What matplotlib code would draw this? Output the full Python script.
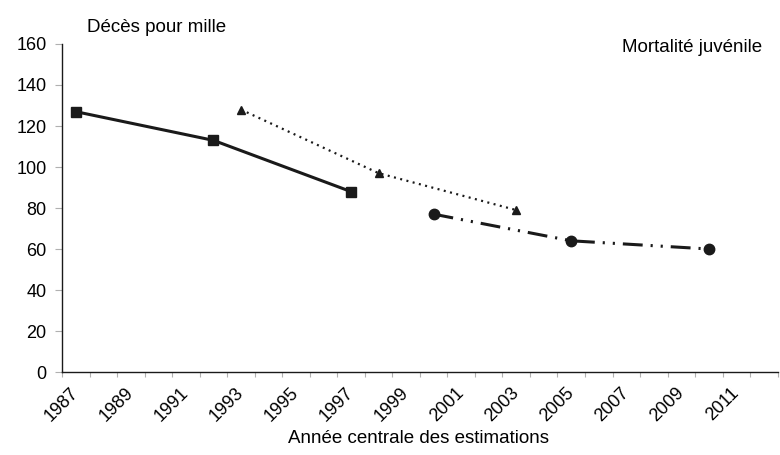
import matplotlib
matplotlib.use("Agg")
import matplotlib.pyplot as plt
import numpy as np

plt.rcParams['font.family'] = ['Liberation Sans', 'DejaVu Sans']

# three survey series: central year of estimate -> deaths per 1000
years_a = [1987, 1992, 1997]
vals_a = [127, 113, 88]
years_b = [1993, 1998, 2003]
vals_b = [128, 97, 79]
years_c = [2000, 2005, 2010]
vals_c = [77, 64, 60]

year_labels = list(range(1987, 2012, 2))

fig = plt.figure(figsize=(7.8, 4.55), dpi=100)
ax = fig.add_axes([0.0795, 0.1824, 0.9175, 0.7209])

ink = "#1a1a1a"
ax.plot(years_a, vals_a, color=ink, lw=2.2, marker='s', markersize=6.5,
        solid_joinstyle='miter')
ax.plot(years_b, vals_b, color=ink, lw=1.6, marker='^', markersize=5.5,
        linestyle=(0, (0.9, 2.0)))
ax.plot(years_c, vals_c, color=ink, lw=2.2, marker='o', markersize=7.5,
        linestyle=(0, (6.5, 2.6, 0.7, 2.6, 0.7, 2.6)))

# category style axis: ticks between years, labels on every other year
ax.set_xlim(1986.5, 2012.5)
ax.set_xticks(np.arange(1986.5, 2013, 1.0))
ax.set_xticklabels([])
ax.set_xticks(year_labels, minor=True)
ax.set_xticklabels([str(y) for y in year_labels], minor=True,
                   rotation=45, ha='right', va='center',
                   rotation_mode='anchor', fontsize=13)
ax.tick_params(axis='x', which='minor', length=0, pad=13)
ax.tick_params(axis='x', which='major', length=3.5, color='#b0b0b0', direction='out')

ax.set_ylim(0, 160)
ax.set_yticks(range(0, 161, 20))
ax.tick_params(axis='y', length=5, color='#b0b0b0', labelsize=13, pad=6)

for s in ['top', 'right']:
    ax.spines[s].set_visible(False)
ax.spines['left'].set_color(ink)
ax.spines['bottom'].set_color(ink)
ax.spines['left'].set_linewidth(1.0)
ax.spines['bottom'].set_linewidth(1.0)

fig.text(0.112, 0.94, "Décès pour mille", fontsize=13.5, va='center', ha='left')
fig.text(0.977, 0.895, "Mortalité juvénile", fontsize=13.5, va='center', ha='right')
fig.text(0.537, 0.036, "Année centrale des estimations", fontsize=13.5,
         va='center', ha='center')

fig.savefig("out.png", dpi=100)
